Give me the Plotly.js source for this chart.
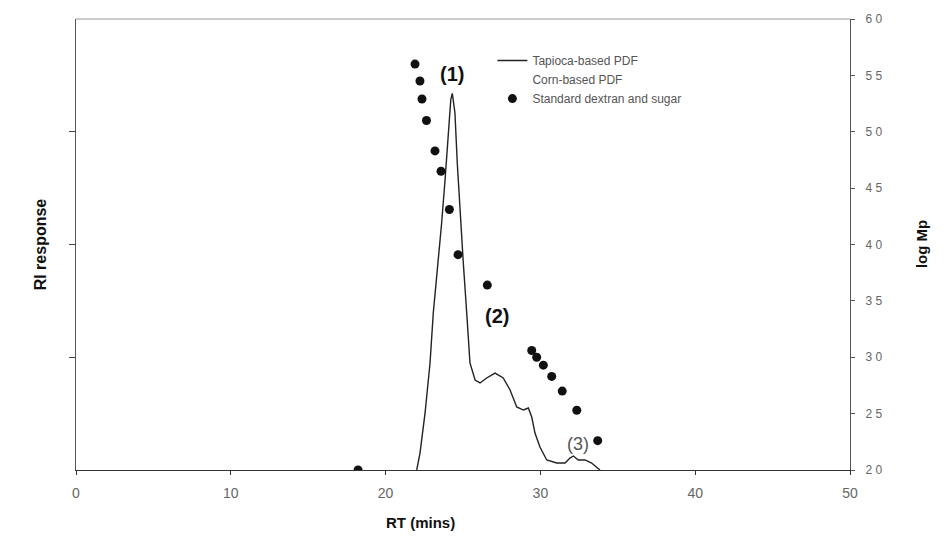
<!DOCTYPE html>
<html>
<head>
<meta charset="utf-8">
<script src="https://cdn.plot.ly/plotly-3.0.1.min.js"></script>
<style>html,body{margin:0;padding:0;background:#fff;}#chart{width:945px;height:540px;}</style>
</head>
<body>
<div id="chart"></div>
<script>
// Tapioca-based PDF chromatogram (RT in mins, RI response)
const tapiocaRT = [22.01,22.22,22.55,22.87,23.08,23.40,23.62,23.84,24.05,24.21,24.31,24.48,24.63,24.81,25.02,25.24,25.45,25.78,26.10,26.53,27.07,27.60,28.04,28.47,28.90,29.22,29.44,29.65,29.97,30.41,31.05,31.59,31.91,32.13,32.45,32.88,33.31,33.85];
const tapiocaRI = [0,0.148,0.506,0.949,1.392,1.836,2.191,2.572,3.016,3.282,3.341,3.166,2.723,2.279,1.836,1.392,0.949,0.798,0.772,0.816,0.860,0.816,0.710,0.559,0.532,0.550,0.470,0.328,0.204,0.089,0.062,0.062,0.106,0.124,0.089,0.089,0.062,0];
// Corn-based PDF (no visible trace in the figure)
const cornRT = [null];
const cornRI = [null];
// Standard dextran and sugar (RT, log Mp)
const stdRT = [18.22,21.90,22.22,22.35,22.64,23.19,23.58,24.12,24.68,26.57,29.44,29.76,30.19,30.73,31.41,32.35,33.70];
const stdLogMp = [2.0,5.60,5.45,5.29,5.10,4.83,4.65,4.31,3.91,3.64,3.06,3.00,2.93,2.83,2.70,2.53,2.26];
// Axis ticks
const xTicks = [0,10,20,30,40,50];
const y2Ticks = [2.0,2.5,3.0,3.5,4.0,4.5,5.0,5.5,6.0];
const y2Labels = ["2 0","2 5","3 0","3 5","4 0","4 5","5 0","5 5","6 0"];
const yTicks = [1,2,3];
// Peak labels
const peakLabels = ["(1)","(2)","(3)"];
const peakRT = [24.3,27.2,32.4];
const peakRI = [3.51,1.37,0.235];

const traces = [
  {x: tapiocaRT, y: tapiocaRI, type:'scatter', mode:'lines', name:'Tapioca-based PDF',
   line:{color:'#222', width:1.4}, yaxis:'y'},
  {x: cornRT, y: cornRI, type:'scatter', mode:'lines', name:'Corn-based PDF',
   line:{color:'rgba(255,255,255,0)', width:1}, yaxis:'y'},
  {x: stdRT, y: stdLogMp, type:'scatter', mode:'markers', name:'Standard dextran and sugar',
   marker:{color:'#111', size:9, symbol:'circle'}, yaxis:'y2', cliponaxis:true}
];

const annotations = [
  {text:'RI response', xref:'paper', yref:'paper', x:-0.059, y:0.5, showarrow:false, textangle:-90,
   font:{family:'Liberation Sans, Arial, sans-serif', size:16, color:'#111', weight:'bold'}},
  {text:'log Mp', xref:'paper', yref:'paper', x:1.106, y:0.5, showarrow:false, textangle:-90,
   font:{family:'Liberation Sans, Arial, sans-serif', size:15, color:'#111', weight:'bold'}},
  {text:'RT (mins)', xref:'paper', yref:'paper', x:0.445, y:-0.14, showarrow:false,
   font:{family:'Liberation Sans, Arial, sans-serif', size:15, color:'#111', weight:'bold'}}
];
peakLabels.forEach((t,i)=>{
  annotations.push({text:t, x:peakRT[i], y:peakRI[i], xref:'x', yref:'y', showarrow:false,
    font:{family:'Liberation Sans, Arial, sans-serif', size: i<2?20:18, color: i<2?'#111':'#555', weight: i<2?'bold':'normal'}});
});

const layout = {
  width:945, height:540,
  margin:{l:76, r:95, t:19, b:70, pad:0},
  paper_bgcolor:'#fff', plot_bgcolor:'#fff',
  showlegend:true,
  legend:{x:0.538, y:0.94, xanchor:'left', yanchor:'top', bgcolor:'rgba(0,0,0,0)',
    font:{family:'Liberation Sans, Arial, sans-serif', size:12, color:'#555'}, tracegroupgap:0},
  xaxis:{range:[0,50], tickvals:xTicks, ticktext:xTicks.map(String), showgrid:false, zeroline:false,
    showline:true, linecolor:'#333', linewidth:1.3, mirror:false, ticks:'outside', ticklen:4, tickcolor:'#333',
    ticklabelstandoff:6,
    tickfont:{family:'Liberation Sans Narrow, Liberation Sans, Arial, sans-serif', size:14, color:'#666'}},
  yaxis:{range:[0,4], tickvals:yTicks, showticklabels:false, showgrid:false, zeroline:false,
    showline:true, linecolor:'#555', linewidth:1, ticks:'outside', ticklen:6, tickcolor:'#444'},
  yaxis2:{range:[2,6], overlaying:'y', side:'right', tickvals:y2Ticks, ticktext:y2Labels, showgrid:false,
    zeroline:false, showline:true, linecolor:'#555', linewidth:1, ticks:'outside', ticklen:4, tickcolor:'#555',
    ticklabelstandoff:8,
    tickfont:{family:'Liberation Sans, Arial, sans-serif', size:12, color:'#666'}},
  shapes:[{type:'line', xref:'paper', yref:'paper', x0:0, x1:1, y0:1, y1:1, line:{color:'#999', width:1}}],
  annotations: annotations
};

Plotly.newPlot('chart', traces, layout, {staticPlot:true, displayModeBar:false});
</script>
</body>
</html>
